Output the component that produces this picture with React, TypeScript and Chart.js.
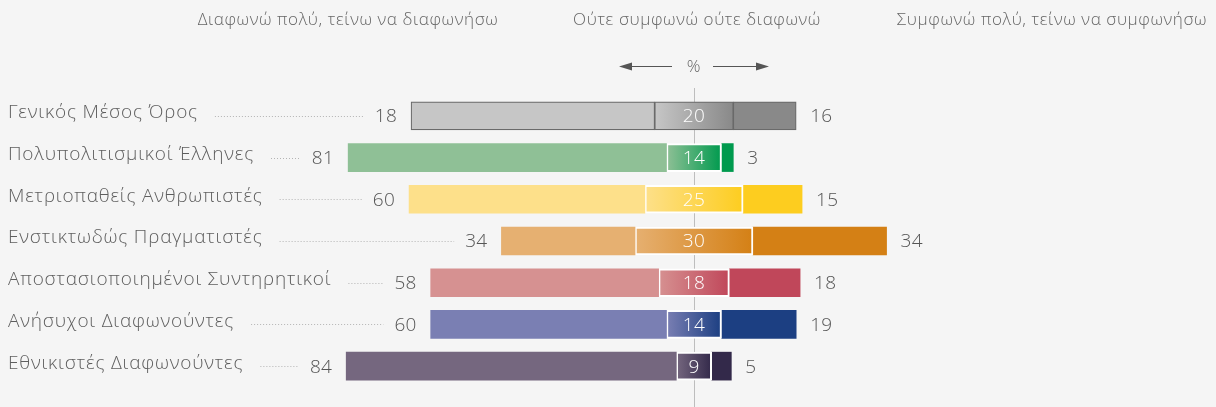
import { useEffect, useRef } from 'react';
import { Chart, registerables } from 'chart.js';

Chart.register(...registerables);

const categories = [
  'Γενικός Μέσος Όρος',
  'Πολυπολιτισμικοί Έλληνες',
  'Μετριοπαθείς Ανθρωπιστές',
  'Ενστικτωδώς Πραγματιστές',
  'Αποστασιοποιημένοι Συντηρητικοί',
  'Ανήσυχοι Διαφωνούντες',
  'Εθνικιστές Διαφωνούντες',
];
// bar lengths as drawn in the reference
const disagree = [62, 81, 60, 34, 58, 60, 84];
// printed labels (the reference prints 18 for the first row)
const disagreeLabels = ['18', '81', '60', '34', '58', '60', '84'];
const neutral = [20, 14, 25, 30, 18, 14, 9];
const agree = [16, 3, 15, 34, 18, 19, 5];

const lightColors = ['#c6c6c6', '#8fc096', '#fde08a', '#e6b071', '#d69191', '#7a7fb3', '#75677f'];
const darkColors = ['#898989', '#009a4e', '#fdcd1f', '#d48015', '#c0475a', '#1c3f82', '#33294a'];

const headers = [
  'Διαφωνώ πολύ, τείνω να διαφωνήσω',
  'Ούτε συμφωνώ ούτε διαφωνώ',
  'Συμφωνώ πολύ, τείνω να συμφωνήσω',
];
const unitLabel = '%';

const W = 1216;
const H = 407;
const FAMILY = '"Open Sans", "Noto Sans", sans-serif';
const BG = '#f5f5f5';

const overlay = {
  id: 'overlay',
  beforeDraw(chart: any) {
    const c = chart.ctx;
    c.save();
    c.fillStyle = BG;
    c.fillRect(0, 0, chart.width, chart.height);
    c.restore();
  },
  beforeDatasetsDraw(chart: any) {
    const c = chart.ctx;
    const x0 = Math.round(chart.scales.x.getPixelForValue(0)) + 0.5;
    c.save();
    c.strokeStyle = '#bdbdbd';
    c.lineWidth = 1;
    c.beginPath();
    c.moveTo(x0, 88);
    c.lineTo(x0, chart.height);
    c.stroke();
    c.restore();
  },
  afterDatasetsDraw(chart: any) {
    const c = chart.ctx;
    const xs = chart.scales.x;
    const cx = xs.getPixelForValue(0);
    c.save();
    // headers
    c.font = `300 17px ${FAMILY}`;
    try { c.letterSpacing = '0.6px'; } catch (e) { /* ignore */ }
    c.fillStyle = '#666';
    c.textBaseline = 'middle';
    c.textAlign = 'center';
    c.fillText(headers[0], 348, 20);
    c.fillText(headers[1], cx + 3, 20);
    c.fillText(headers[2], 1052, 20);
    // arrows
    const ay = 66.5;
    c.fillText(unitLabel, cx, 67);
    c.strokeStyle = '#555';
    c.fillStyle = '#555';
    c.lineWidth = 1.2;
    c.beginPath();
    c.moveTo(628, ay);
    c.lineTo(672, ay);
    c.moveTo(713, ay);
    c.lineTo(760, ay);
    c.stroke();
    c.beginPath();
    c.moveTo(619, ay);
    c.lineTo(632, ay - 4);
    c.lineTo(632, ay + 4);
    c.closePath();
    c.fill();
    c.beginPath();
    c.moveTo(769, ay);
    c.lineTo(756, ay - 4);
    c.lineTo(756, ay + 4);
    c.closePath();
    c.fill();

    const m0 = chart.getDatasetMeta(0);
    const m2 = chart.getDatasetMeta(2);
    categories.forEach((cat, i) => {
      const e0 = m0.data[i];
      const e2 = m2.data[i];
      const y = e0.y;
      const left = Math.min(e0.x, e0.base);
      const right = Math.max(e2.x, e2.base);
      // category
      c.font = `300 19px ${FAMILY}`;
      try { c.letterSpacing = '0.8px'; } catch (e) { /* ignore */ }
      c.fillStyle = '#5e5e5e';
      c.textAlign = 'left';
      c.fillText(cat, 8, y - 3);
      const tw = c.measureText(cat).width;
      // disagree value
      c.font = `300 19px ${FAMILY}`;
      try { c.letterSpacing = '0.3px'; } catch (e) { /* ignore */ }
      c.fillStyle = '#555';
      c.textAlign = 'right';
      const lx = left - 14;
      c.fillText(disagreeLabels[i], lx, y + 1);
      const vw = c.measureText(disagreeLabels[i]).width;
      // leader
      const ls = 8 + tw + 17;
      const le = lx - vw - 11;
      if (le > ls) {
        c.strokeStyle = '#b4b4b4';
        c.lineWidth = 1;
        c.setLineDash([1, 2]);
        c.beginPath();
        c.moveTo(ls, Math.round(y) + 0.5);
        c.lineTo(le, Math.round(y) + 0.5);
        c.stroke();
        c.setLineDash([]);
      }
      // agree value
      c.textAlign = 'left';
      c.fillStyle = '#555';
      c.fillText(String(agree[i]), right + 14, y + 1);
      // neutral value
      c.textAlign = 'center';
      c.fillStyle = '#ffffff';
      c.fillText(String(neutral[i]), cx, y + 1);
    });
    c.restore();
  },
};

export default function App() {
  const ref = useRef<HTMLCanvasElement>(null);
  useEffect(() => {
    document.body.style.margin = '0';
    document.body.style.background = BG;
    const canvas = ref.current!;
    const neutralBg = (ctx: any) => {
      const i = ctx.dataIndex;
      const chart = ctx.chart;
      if (ctx.type !== 'data' || !chart.chartArea || !chart.scales.x) return lightColors[i] || '#ccc';
      const xs = chart.scales.x;
      const x0 = xs.getPixelForValue(-neutral[i] / 2);
      const x1 = xs.getPixelForValue(neutral[i] / 2);
      const g = chart.ctx.createLinearGradient(x0, 0, x1, 0);
      g.addColorStop(0, lightColors[i]);
      g.addColorStop(1, darkColors[i]);
      return g;
    };
    const chart = new Chart(canvas, {
      type: 'bar',
      data: {
        labels: categories,
        datasets: [
          {
            data: categories.map((_, i) => [-neutral[i] / 2 - disagree[i], -neutral[i] / 2]) as any,
            backgroundColor: lightColors,
            borderColor: categories.map((_, i) => (i === 0 ? '#6a6a6a' : 'rgba(0,0,0,0)')),
            borderWidth: categories.map((_, i) => (i === 0 ? 1.2 : 0)),
            borderSkipped: false,
            barThickness: 28,
          },
          {
            data: categories.map((_, i) => [-neutral[i] / 2, neutral[i] / 2]) as any,
            backgroundColor: neutralBg,
            borderColor: categories.map((_, i) => (i === 0 ? '#6a6a6a' : '#ffffff')),
            borderWidth: categories.map((_, i) => (i === 0 ? 1.2 : 2)),
            borderSkipped: false,
            barThickness: 28,
          },
          {
            data: categories.map((_, i) => [neutral[i] / 2, neutral[i] / 2 + agree[i]]) as any,
            backgroundColor: darkColors,
            borderColor: categories.map((_, i) => (i === 0 ? '#6a6a6a' : 'rgba(0,0,0,0)')),
            borderWidth: categories.map((_, i) => (i === 0 ? 1.2 : 0)),
            borderSkipped: false,
            barThickness: 28,
          },
        ],
      },
      options: {
        indexAxis: 'y',
        responsive: false,
        animation: false,
        layout: { padding: { left: 301, right: 129, top: 95, bottom: 20 } },
        scales: {
          x: { min: -100, max: 100, display: false },
          y: { display: false, stacked: true },
        },
        plugins: { legend: { display: false }, tooltip: { enabled: false } },
      },
      plugins: [overlay],
    });
    return () => chart.destroy();
  }, []);
  return (
    <div style={{ position: 'absolute', left: 0, top: 0, width: W, height: H }}>
      <canvas ref={ref} width={W} height={H} style={{ width: W, height: H, display: 'block' }} />
    </div>
  );
}
